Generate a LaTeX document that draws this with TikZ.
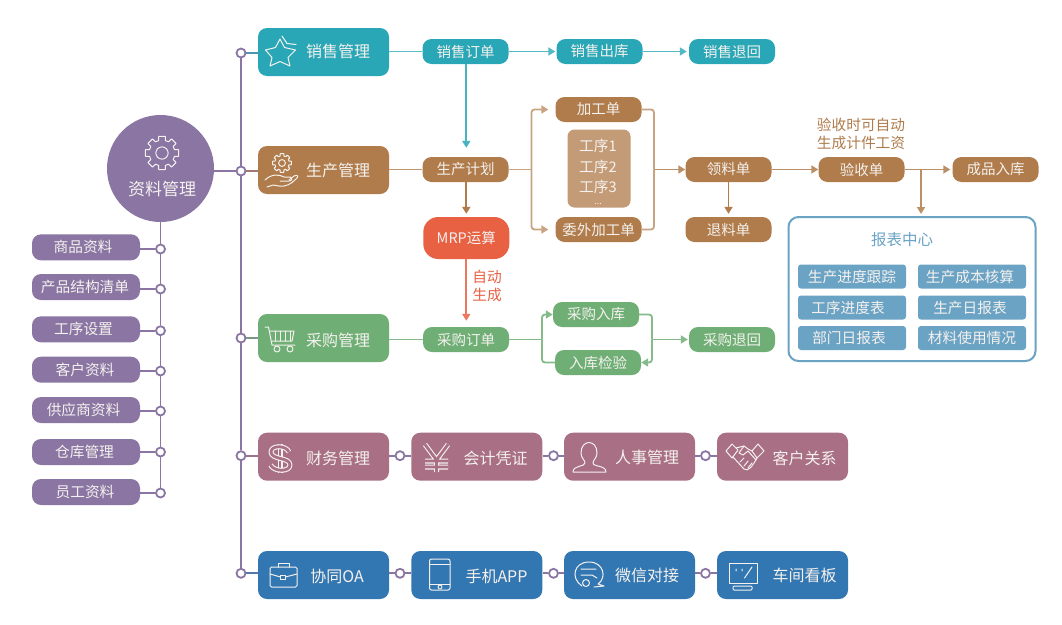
\documentclass[tikz,border=0pt]{standalone}
\usepackage{fontspec}
\setmainfont{Noto Sans CJK SC}
\usetikzlibrary{arrows.meta}
\definecolor{cteal}{HTML}{29A7B6}
\definecolor{cbrown}{HTML}{B07C4B}
\definecolor{cgreen}{HTML}{6FAF75}
\definecolor{cmauve}{HTML}{A96F84}
\definecolor{cblue}{HTML}{3377B2}
\definecolor{cpurple}{HTML}{8A75A3}
\definecolor{corange}{HTML}{E96143}
\definecolor{crep}{HTML}{6BA3C5}
\definecolor{cproc}{HTML}{C49B77}
\definecolor{ctxt}{HTML}{F4F1EE}
\tikzset{
  x=1pt,y=-1pt,
  bigbox/.style={fill=#1,draw=none,rounded corners=9pt,minimum width=131pt,minimum height=48pt,inner sep=0pt},
  pill/.style={fill=#1,draw=none,rounded corners=9pt,minimum width=86pt,minimum height=25pt,inner sep=0pt,text=ctxt,font=\fontsize{14.5}{16}\selectfont},
  leftpill/.style={pill=cpurple,minimum width=108pt,minimum height=26pt,rounded corners=9pt},
  repcell/.style={fill=crep,draw=none,rounded corners=3pt,minimum width=108pt,minimum height=24pt,inner sep=0pt},
  smalltext/.style={text=#1,inner sep=0pt,font=\fontsize{14.7}{16}\selectfont},
  boxlabel/.style={text=ctxt,inner sep=0pt,font=\fontsize{16}{18}\selectfont},
  ring/.style={circle,fill=white,draw=cpurple,line width=1.8pt,minimum size=9pt,inner sep=0pt},
  purpleline/.style={draw=cpurple,line width=1.9pt},
  flow/.style={draw=#1,line width=1.8pt,rounded corners=3pt},
  flowa/.style={flow=#1,-{Triangle[length=7pt,width=8pt]}},
  icon/.style={draw=ctxt,line width=1pt,line join=round,line cap=round,fill=none},
  thickout/.style={draw=ctxt,line width=5pt,line join=round,fill=none},
  thickin/.style={draw=#1,line width=2.8pt,line join=round,fill=none},
}
\newcommand{\geargl}[3]{%
  \draw[icon] ({#1+#3*cos(-11)},{#2+#3*sin(-11)})
    \foreach \a in {0,45,...,315}{
      -- ({#1+#3*cos(\a-11)},{#2+#3*sin(\a-11)})
      -- ({#1+#3*cos(\a+11)},{#2+#3*sin(\a+11)})
      -- ({#1+.76*#3*cos(\a+15)},{#2+.76*#3*sin(\a+15)})
      -- ({#1+.76*#3*cos(\a+30)},{#2+.76*#3*sin(\a+30)})
    } -- cycle;
  \draw[icon] (#1,#2) circle ({.36*#3});
}
\begin{document}
\begin{tikzpicture}
\useasboundingbox (0,0) rectangle (1062,624);
\fill[white] (0,0) rectangle (1062,624);
% central circle
\node[circle,fill=cpurple,minimum size=107pt,inner sep=0pt] (circ) at (160.5,168.5) {};
\node[text=ctxt,inner sep=0pt,font=\fontsize{17}{19}\selectfont] (circt) at (162,189) {资料管理};
% left column
\foreach \n/\t/\y/\ry/\tx in {
  la/商品资料/247.3/249/83,
  lb/产品结构清单/287/289/85,
  lc/工序设置/329.3/330.7/83.5,
  ld/客户资料/369.7/371/85,
  le/供应商资料/410/411/83.5,
  lf/仓库管理/452/452/84.5,
  lg/员工资料/492/493/85}{
  \node[leftpill] (\n) at (86,\y) {};
  \node[smalltext=ctxt] (\n t) at (\tx,\y) {\t};
  \node[ring] (r\n) at (160.5,\ry) {};
  \draw[purpleline] (r\n) -- (\n.east |- r\n);
}
\draw[purpleline] (circ) -- (rla);
\foreach \p/\q in {la/lb,lb/lc,lc/ld,ld/le,le/lf,lf/lg}{\draw[purpleline] (r\p) -- (r\q);}
% main boxes
\node[bigbox=cteal] (sales) at (323.5,52) {};
\node[bigbox=cbrown] (prod) at (323.5,170) {};
\node[bigbox=cgreen] (purch) at (323.5,338) {};
\node[bigbox=cmauve] (fin) at (323.5,456.7) {};
\node[bigbox=cblue] (oa) at (323.5,575) {};
\node[bigbox=cmauve] (acc) at (476.8,456.7) {};
\node[bigbox=cmauve] (hr) at (629.5,456.7) {};
\node[bigbox=cmauve] (crm) at (782.5,456.7) {};
\node[bigbox=cblue] (app) at (476.8,575) {};
\node[bigbox=cblue] (wx) at (629.5,575) {};
\node[bigbox=cblue] (kb) at (782.5,575) {};
\node[boxlabel] (t1) at (338,51) {销售管理};
\node[boxlabel] (t2) at (338,170) {生产管理};
\node[boxlabel] (t3) at (338,340) {采购管理};
\node[boxlabel] (t4) at (338,458) {财务管理};
\node[boxlabel] (t5) at (495.5,458) {会计凭证};
\node[boxlabel] (t6) at (647,457) {人事管理};
\node[boxlabel] (t7) at (804.5,458) {客户关系};
\node[boxlabel] (t8) at (337,576) {协同OA};
\node[boxlabel] (t9) at (496.5,576) {手机APP};
\node[boxlabel] (t10) at (647,575) {微信对接};
\node[boxlabel] (t11) at (804.5,575.5) {车间看板};
% spine rings
\node[ring] (s1) at (241,53) {};
\node[ring] (s2) at (241,171) {};
\node[ring] (s3) at (241,338) {};
\node[ring] (s4) at (241,455.7) {};
\node[ring] (s5) at (241,573.3) {};
\draw[purpleline] (s1)--(s2);\draw[purpleline] (s2)--(s3);\draw[purpleline] (s3)--(s4);\draw[purpleline] (s4)--(s5);
\draw[purpleline] (s2) -- (s2 -| circ.east);
\draw[draw=cteal!60!cpurple,line width=1.8pt] (s1) -- (s1 -| sales.west);
\draw[draw=cbrown!60!cpurple,line width=1.8pt] (s2) -- (s2 -| prod.west);
\draw[draw=cgreen!60!cpurple,line width=1.8pt] (s3) -- (s3 -| purch.west);
\draw[draw=cmauve!60!cpurple,line width=1.8pt] (s4) -- (s4 -| fin.west);
\draw[draw=cblue!60!cpurple,line width=1.8pt] (s5) -- (s5 -| oa.west);
% bottom ring connectors
\foreach \a/\b/\x/\y in {fin/acc/400/455.7,acc/hr/553.5/455.7,hr/crm/705.5/455.7,oa/app/400/573.3,app/wx/553.5/573.3,wx/kb/705.5/573.3}{
  \node[ring] (j\a) at (\x,\y) {};
  \draw[purpleline] (\a.east |- j\a) -- (j\a);
  \draw[purpleline] (j\a) -- (\b.west |- j\a);
}
% sales row
\node[pill=cteal] (so) at (465.5,51.5) {销售订单};
\node[pill=cteal] (sout) at (599.5,51.5) {销售出库};
\node[pill=cteal] (sret) at (732,51.5) {销售退回};
\draw[flow=cteal!75] (sales.east |- so) -- (so);
\draw[flowa=cteal!80,shorten >=1pt] (so) -- (sout);
\draw[flowa=cteal!80,shorten >=2pt] (sout) -- (sret);
% production row
\node[pill=cbrown] (pl) at (465.5,169.5) {生产计划};
\node[pill=corange,minimum width=86pt,minimum height=42pt,rounded corners=15pt] (mrp) at (466.3,238) {MRP运算};
\node[pill=cgreen] (po) at (466,339.5) {采购订单};
\node[pill=cbrown] (jg) at (598.5,109.5) {加工单};
\node[pill=cbrown] (wj) at (598.5,229.5) {委外加工单};
\node[fill=cproc,rounded corners=7pt,minimum width=63pt,minimum height=78pt,inner sep=0pt] (gx) at (599,168.5) {};
\node[smalltext=ctxt] (gx1) at (598,146) {工序1};
\node[smalltext=ctxt] (gx2) at (598,166.5) {工序2};
\node[smalltext=ctxt] (gx3) at (598,187) {工序3};
\node[text=ctxt,inner sep=0pt,font=\fontsize{9}{9}\selectfont] (gx4) at (598,203.5) {...};
\node[pill=cbrown] (ll) at (728.5,169.5) {领料单};
\node[pill=cbrown] (tl) at (728.5,229.5) {退料单};
\node[pill=cbrown] (ys) at (861.5,169.5) {验收单};
\node[pill=cbrown] (cp) at (995.5,169.5) {成品入库};
\draw[flow=cbrown!80] (prod.east |- pl) -- (pl);
\draw[flowa=cteal!85,shorten >=9pt] (so.south -| mrp) -- (pl.north -| mrp);
\draw[flowa=cbrown,shorten >=3pt] (pl.south -| mrp) -- (mrp.north);
\draw[flowa=corange!85,shorten >=6pt] (mrp.south) -- (po.north -| mrp);
\coordinate (bl) at (531.5,169.5);
\coordinate (br) at (654,169.5);
\draw[flow=cbrown!70] (pl) -- (bl);
\draw[flowa=cbrown!70,shorten >=7pt] (bl) |- (jg);
\draw[flowa=cbrown!70,shorten >=7pt] (bl) |- (wj);
\draw[flow=cbrown!70] (jg) -| (br);
\draw[flow=cbrown!70] (wj) -| (br);
\draw[flowa=cbrown!85] (br) -- (ll);
\draw[flowa=cbrown,shorten >=3pt] (ll) -- (tl);
\draw[flowa=cbrown!85] (ll) -- (ys);
\draw[flowa=cbrown!85,shorten >=2pt] (ys) -- (cp);
\node[smalltext=cbrown] (note1) at (861,125) {验收时可自动};
\node[smalltext=cbrown] (note2) at (861,143) {生成计件工资};
\node[smalltext=corange] (auto1) at (487,277) {自动};
\node[smalltext=corange] (auto2) at (487,295) {生成};
% purchase row
\node[pill=cgreen] (pin) at (596,314.5) {采购入库};
\node[pill=cgreen] (chk) at (598,362.5) {入库检验};
\node[pill=cgreen] (pret) at (732,339.5) {采购退回};
\coordinate (gl) at (542,339.5);
\coordinate (gr) at (652,339.5);
\draw[flow=cgreen!85] (purch.east |- po) -- (po);
\draw[flow=cgreen!85] (po) -- (gl);
\draw[flowa=cgreen!85] (gl) |- (pin);
\draw[flow=cgreen!85] (gl) |- (chk);
\draw[flow=cgreen!85] (pin) -| (gr);
\draw[flowa=cgreen!85] (gr) |- (chk);
\draw[flowa=cgreen!85,shorten >=1pt] (gr) -- (pret);
% report centre
\node[draw=crep,fill=white,line width=2pt,rounded corners=10pt,minimum width=247pt,minimum height=144pt,inner sep=0pt] (rep) at (912,289) {};
\node[text=crep,inner sep=0pt,font=\fontsize{15.5}{17}\selectfont] (rept) at (902,240) {报表中心};
\foreach \n/\t/\cx/\cy/\tx in {
  c1/生产进度跟踪/852/276.5/852,
  c2/生产成本核算/972/276.5/970,
  c3/工序进度表/852/307.5/848,
  c4/生产日报表/972/307.5/970,
  c5/部门日报表/852/338/849,
  c6/材料使用情况/972/338/972}{
  \node[repcell] (\n) at (\cx,\cy) {};
  \node[smalltext=ctxt] (\n t) at (\tx,\cy) {\t};
}
\coordinate (ya) at (921,169.5);
\draw[flowa=cbrown!85,shorten >=2pt] (ya) -- (ya |- rep.north);
% icons ---------------------------------------
% star
\draw[icon] (280,39) -- (284.5,47.5) -- (295.5,50) -- (288,57.5) -- (290,66) -- (280,61.5) -- (270,66) -- (272,57.5) -- (265.5,50) -- (275.5,47.5) -- cycle;
\draw[icon] (282,36) -- (287,43.5) -- (296,44.5);
% circle gear
\geargl{162}{153}{17}
% hand + gear
\geargl{282}{163}{9.5}
\draw[icon] (265,180) .. controls (271,174) and (279,174) .. (284,177) -- (290,177) .. controls (293,178) and (292,181) .. (289,181) -- (280,181);
\draw[icon] (289,180) -- (294,176) .. controls (298,174) and (299,177) .. (296,179) .. controls (291,184) and (286,187) .. (279,186) -- (273,185) -- (267,187);
% cart
\draw[icon] (265,327) -- (268.5,327) -- (272,345) -- (295,345);
\draw[icon] (270,331) -- (294,331) -- (292,341) -- (272,341);
\foreach \xx in {275,280,285,290}{\draw[icon] (\xx,331) -- (\xx,341);}
\draw[icon] (277,349) circle (3);
\draw[icon] (290,349) circle (3);
% dollar
\draw[thickout] (280,444) -- (280,473);
\draw[thickin=cmauve] (280,443.5) -- (280,473.5);
\draw[thickout] (289,452) .. controls (286,445) and (271,445) .. (271,452) .. controls (271,460) and (290,457) .. (290,465) .. controls (290,472) and (274,472) .. (270.5,465);
\draw[thickin=cmauve] (289,452) .. controls (286,445) and (271,445) .. (271,452) .. controls (271,460) and (290,457) .. (290,465) .. controls (290,472) and (274,472) .. (270.5,465);
% yen
\draw[thickout] (425,444.5) -- (436.5,460) -- (448,444.5) (436.5,460) -- (436.5,472) (425,461) -- (448,461) (425,467) -- (448,467);
\draw[thickin=cmauve] (425,444.5) -- (436.5,460) -- (448,444.5) (436.5,460) -- (436.5,472.5) (425,461) -- (448,461) (425,467) -- (448,467);
% person
\draw[icon] (597,453) .. controls (597,439) and (581,439) .. (581,453) .. controls (581,458) and (585,460) .. (585,463) .. controls (585,467) and (573,465) .. (573,472) -- (606,472) .. controls (606,465) and (593,467) .. (593,463) .. controls (593,460) and (597,458) .. (597,453) -- cycle;
% handshake
\draw[icon] (726,451) -- (732,444) -- (738,450) -- (732,458) -- cycle;
\draw[icon] (758,444) -- (764,451) -- (757,458) -- (752,451) -- cycle;
\draw[icon] (736,448) -- (744,446) -- (748,449) -- (752,451) (733,457) -- (744,469) .. controls (748,472) and (752,467) .. (757,458);
\draw[icon] (744,446) -- (739,453) -- (743,455) -- (748,451) -- (756,460);
\draw[icon] (740,462) -- (744,458) (744,466) -- (748,461) (748,468) -- (752,463);
% briefcase
\draw[icon,rounded corners=1.5pt] (270,567) rectangle (297,587);
\draw[icon] (270,574) -- (280.5,577) (285.5,577) -- (297,574);
\draw[icon] (280.5,575) rectangle (285.5,579);
\draw[icon] (278,567) -- (278,563) -- (289,563) -- (289,567);
% phone
\draw[icon,rounded corners=2pt] (429.5,559) rectangle (450,590);
\draw[icon] (429.5,564) -- (450,564) (429.5,584) -- (450,584);
\draw[icon] (440,587) circle (2);
% wechat
\draw[icon] (582,586) .. controls (570,578) and (574,562) .. (589,562) .. controls (604,562) and (607,578) .. (598,584) -- (604,586) -- (594,587);
\draw[icon] (581,569) -- (596,569) (581,575) -- (592,575) -- (597,578);
\draw[icon] (586,583) circle (3.5);
% monitor
\draw[icon] (729,563) rectangle (757,583);
\draw[icon,rounded corners=1pt] (733,586) rectangle (752,590);
\draw[icon] (736,569) -- (736,571) (742,569) -- (742,571) (752,567) -- (744.5,578);
\end{tikzpicture}
\end{document}
